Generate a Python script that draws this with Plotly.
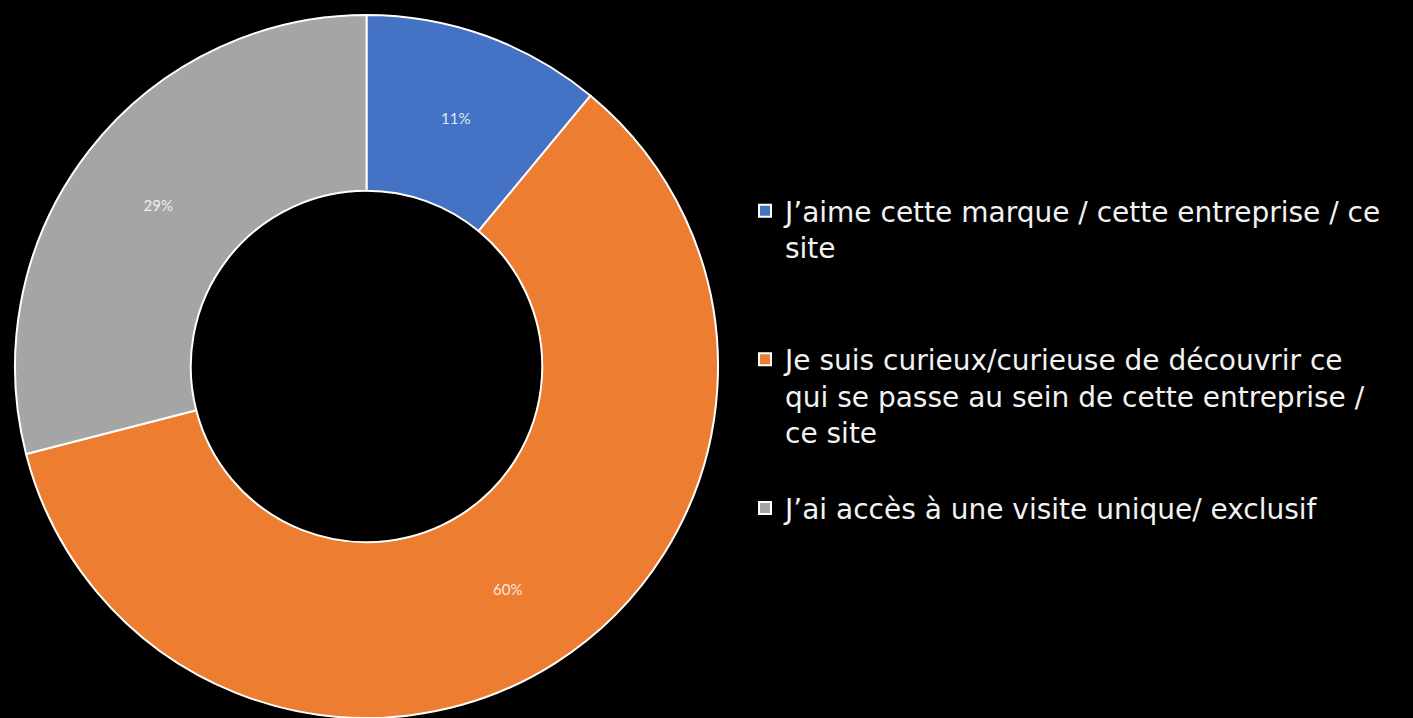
import plotly.graph_objects as go

labels = [
    "J’aime cette marque / cette entreprise / ce<br>site<br>\u00a0<br>\u00a0",
    "Je suis curieux/curieuse de découvrir ce<br>qui se passe au sein de cette entreprise /<br>ce site<br>\u00a0",
    "J’ai accès à une visite unique/ exclusif",
]
values = [11, 60, 29]
colors = ["#4472C4", "#ED7D31", "#A5A5A5"]

W, H = 1413, 718

fig = go.Figure(
    go.Pie(
        labels=labels,
        values=values,
        hole=0.5,
        sort=False,
        direction="clockwise",
        rotation=0,
        marker=dict(colors=colors, line=dict(color="#FFFFFF", width=2)),
        texttemplate="%{value}%",
        textposition="inside",
        insidetextorientation="horizontal",
        textfont=dict(color="rgba(255,255,255,0.85)", size=15, family="Lato"),
        domain=dict(x=[15 / W, 718 / W], y=[0.0, 703 / H]),
        hoverinfo="percent",
    )
)

fig.update_layout(
    width=W,
    height=H,
    paper_bgcolor="#000000",
    plot_bgcolor="#000000",
    margin=dict(l=0, r=0, t=0, b=0),
    showlegend=True,
    legend=dict(
        x=745 / W,
        xanchor="left",
        y=1 - 186 / H,
        yanchor="top",
        valign="top",
        font=dict(family="DejaVu Sans", size=28, color="#F2F2F2"),
        bgcolor="rgba(0,0,0,0)",
        itemwidth=30,
    ),
)

fig.write_html(
    "out.html",
    config={"displayModeBar": False},
    post_script="document.body.style.margin='0';document.body.style.background='#000';",
)
